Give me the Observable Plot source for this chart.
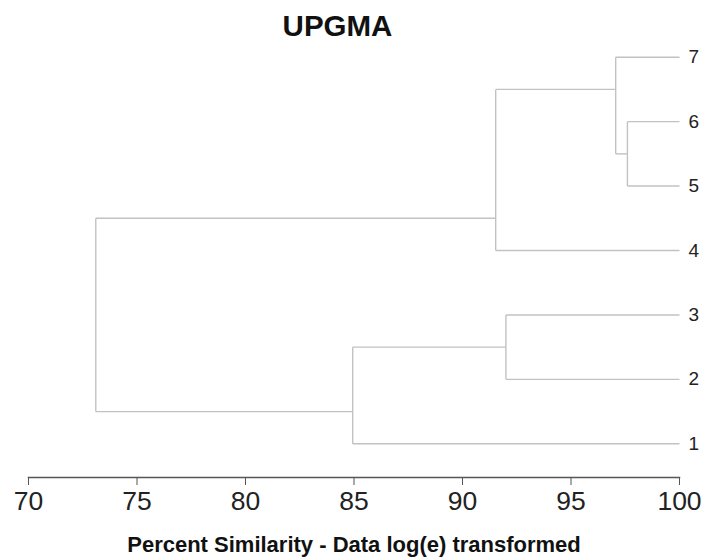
<!DOCTYPE html>
<html><head><meta charset="utf-8">
<script src="https://cdn.jsdelivr.net/npm/d3@7"></script>
<script src="https://cdn.jsdelivr.net/npm/@observablehq/plot@0.6"></script>
<style>body{margin:0;background:#fff;}</style>
</head><body><div id="chart"></div>
<script>
const title = "UPGMA";
const xLabel = "Percent Similarity - Data log(e) transformed";
const leafOrder = ["1","2","3","4","5","6","7"]; // bottom to top
const xTicks = [70, 75, 80, 85, 90, 95, 100];
const xDomain = [70, 100];
const mergeNames = ["n1","n2","n3","n4","n5","n6"];
const mergeA = ["5","7","4","2","1","n3"];
const mergeB = ["6","n1","n2","3","n4","n5"];
const mergeSim = [97.6, 97.06, 91.53, 92.0, 84.94, 73.1];

// build dendrogram layout from the merge table
const info = new Map();
leafOrder.forEach((l, i) => info.set(l, {x: xDomain[1], y: i + 1, min: i + 1, max: i + 1}));
const links = [];
mergeNames.forEach((n, i) => {
  const a = info.get(mergeA[i]), b = info.get(mergeB[i]);
  const lo = a.min < b.min ? a : b, hi = a.min < b.min ? b : a;
  const split = (lo.max + hi.min) / 2;
  const x = mergeSim[i];
  links.push({x1: a.x, y1: a.y, x2: x, y2: a.y});
  links.push({x1: b.x, y1: b.y, x2: x, y2: b.y});
  links.push({x1: x, y1: a.y, x2: x, y2: b.y});
  info.set(n, {x, y: split, min: Math.min(a.min, b.min), max: Math.max(a.max, b.max)});
});
const leaves = leafOrder.map((l, i) => ({label: l, x: xDomain[1], y: i + 1}));

const chart = Plot.plot({
  width: 703,
  height: 560,
  marginLeft: 28,
  marginRight: 24,
  marginTop: 0,
  marginBottom: 83,
  style: {fontFamily: "'Liberation Sans', Arial, sans-serif", background: "#fff", color: "#222"},
  x: {domain: xDomain},
  y: {domain: [1, 7], range: [443.3, 56.7], axis: null},
  marks: [
    Plot.link(links, {x1: "x1", y1: "y1", x2: "x2", y2: "y2", stroke: "#c2c2c2", strokeWidth: 1.4}),
    Plot.text(leaves, {x: "x", y: "y", text: "label", dx: 9, textAnchor: "start", fontSize: 19, fill: "#222"}),
    Plot.frame({anchor: "bottom", stroke: "#555", strokeWidth: 1.5}),
    Plot.axisX({ticks: xTicks, tickSize: 8, tickPadding: 6, fontSize: 26.5, label: null, stroke: "#555", fill: "#222"}),
    Plot.text([title], {frameAnchor: "top", lineAnchor: "middle", dy: 26.5, dx: -16.5, fontSize: 29.5, fontWeight: "bold", fill: "#111"}),
    Plot.text([xLabel], {frameAnchor: "bottom", lineAnchor: "middle", dy: 67, fontSize: 22, fontWeight: "bold", fill: "#111"})
  ]
});
document.getElementById("chart").appendChild(chart);
</script>
</body></html>
